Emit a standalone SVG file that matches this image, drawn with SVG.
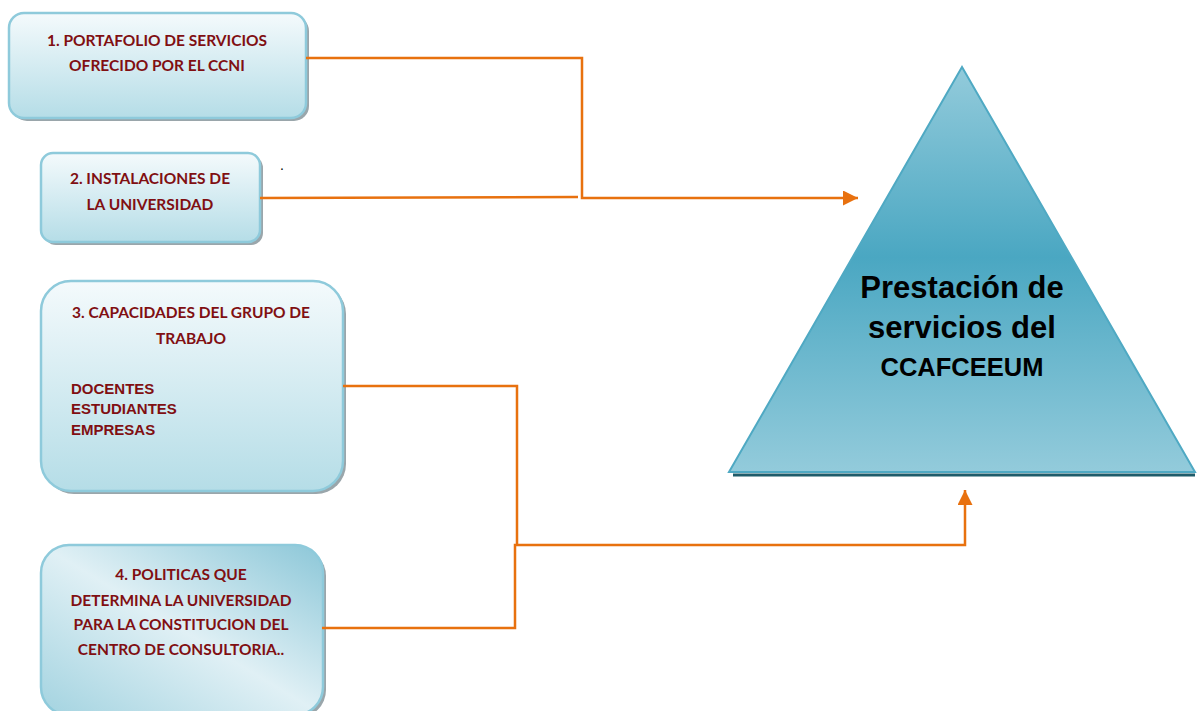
<svg xmlns="http://www.w3.org/2000/svg" width="1197" height="711" viewBox="0 0 1197 711">
<style>
.box{stroke:#8ecadb;stroke-width:2.5}
.shadow{fill:#9aa6ab}
.lbl{font-family:Lato,"Liberation Sans",sans-serif;font-weight:bold;font-size:15.5px;fill:#800f12;text-anchor:middle}
.lst{font-family:"Liberation Sans",Arial,sans-serif;font-weight:bold;font-size:15px;fill:#800f12}
.tri{font-family:"Liberation Sans",Arial,sans-serif;font-weight:bold;fill:#000;text-anchor:middle}
.con{fill:none;stroke:#e8710f;stroke-width:2.5}
</style>
<defs>
<linearGradient id="gBox" x1="0" y1="0" x2="0" y2="1">
<stop offset="0" stop-color="#f4fafc"/>
<stop offset="1" stop-color="#b5dde7"/>
</linearGradient>
<linearGradient id="gBox4" x1="1" y1="0" x2="0" y2="1">
<stop offset="0" stop-color="#8cc7d8"/>
<stop offset="0.5" stop-color="#e0f0f5"/>
<stop offset="1" stop-color="#a3d3e0"/>
</linearGradient>
<linearGradient id="gTri" x1="0" y1="0" x2="0" y2="1">
<stop offset="0" stop-color="#93cbdb"/>
<stop offset="0.47" stop-color="#4aa7c2"/>
<stop offset="1" stop-color="#93cbdb"/>
</linearGradient>
<marker id="arr" viewBox="0 0 10 10" refX="10" refY="5" markerWidth="6" markerHeight="6" orient="auto" markerUnits="strokeWidth">
<path d="M0,0 L10,5 L0,10 z" fill="#e8710f"/>
</marker>
</defs>

<g id="node1">
<rect class="shadow" x="12" y="16" width="297" height="105" rx="15"/>
<rect class="box" x="9" y="13" width="297" height="105" rx="15" fill="url(#gBox)"/>
<text class="lbl" x="157" y="46">1. PORTAFOLIO DE SERVICIOS</text>
<text class="lbl" x="157" y="71">OFRECIDO POR EL CCNI</text>
</g>

<g id="node2">
<rect class="shadow" x="44" y="156" width="219" height="89" rx="12"/>
<rect class="box" x="41" y="153" width="219" height="89" rx="12" fill="url(#gBox)"/>
<text class="lbl" x="150" y="184">2. INSTALACIONES DE</text>
<text class="lbl" x="150" y="210">LA UNIVERSIDAD</text>
</g>

<g id="node3">
<rect class="shadow" x="44" y="284" width="302" height="210" rx="30"/>
<rect class="box" x="41" y="281" width="302" height="210" rx="30" fill="url(#gBox)"/>
<text class="lbl" x="191" y="318">3. CAPACIDADES DEL GRUPO DE</text>
<text class="lbl" x="191" y="344">TRABAJO</text>
<text class="lst" x="71" y="394">DOCENTES</text>
<text class="lst" x="71" y="414">ESTUDIANTES</text>
<text class="lst" x="71" y="435">EMPRESAS</text>
</g>

<g id="node4">
<rect class="shadow" x="44" y="548" width="282" height="170" rx="28"/>
<rect class="box" x="41" y="545" width="282" height="170" rx="28" fill="url(#gBox4)"/>
<text class="lbl" x="181" y="580">4. POLITICAS QUE</text>
<text class="lbl" x="181" y="606">DETERMINA LA UNIVERSIDAD</text>
<text class="lbl" x="181" y="630">PARA LA CONSTITUCION DEL</text>
<text class="lbl" x="181" y="655">CENTRO DE CONSULTORIA..</text>
</g>

<g id="node5">
<line x1="733" y1="475" x2="1195" y2="475" stroke="#1f5c6a" stroke-width="3"/>
<polygon points="962,67 729,472 1195,472" fill="url(#gTri)" stroke="#4fa9c3" stroke-width="2"/>
<text class="tri" x="962" y="298" font-size="31">Prestación de</text>
<text class="tri" x="962" y="338" font-size="31">servicios del</text>
<text class="tri" x="962" y="376" font-size="25.5">CCAFCEEUM</text>
</g>

<text x="280" y="170" font-family="Liberation Sans,sans-serif" font-size="14" fill="#000">.</text>

<g id="connectors">
<polyline class="con" points="306,58 582,58 582,198 858,198" marker-end="url(#arr)"/>
<line class="con" x1="260" y1="198" x2="578" y2="197"/>
<polyline class="con" points="343,386 517,386 517,545"/>
<polyline class="con" points="322,628 515,628 515,545 965,545 965,490" marker-end="url(#arr)"/>
</g>
</svg>
